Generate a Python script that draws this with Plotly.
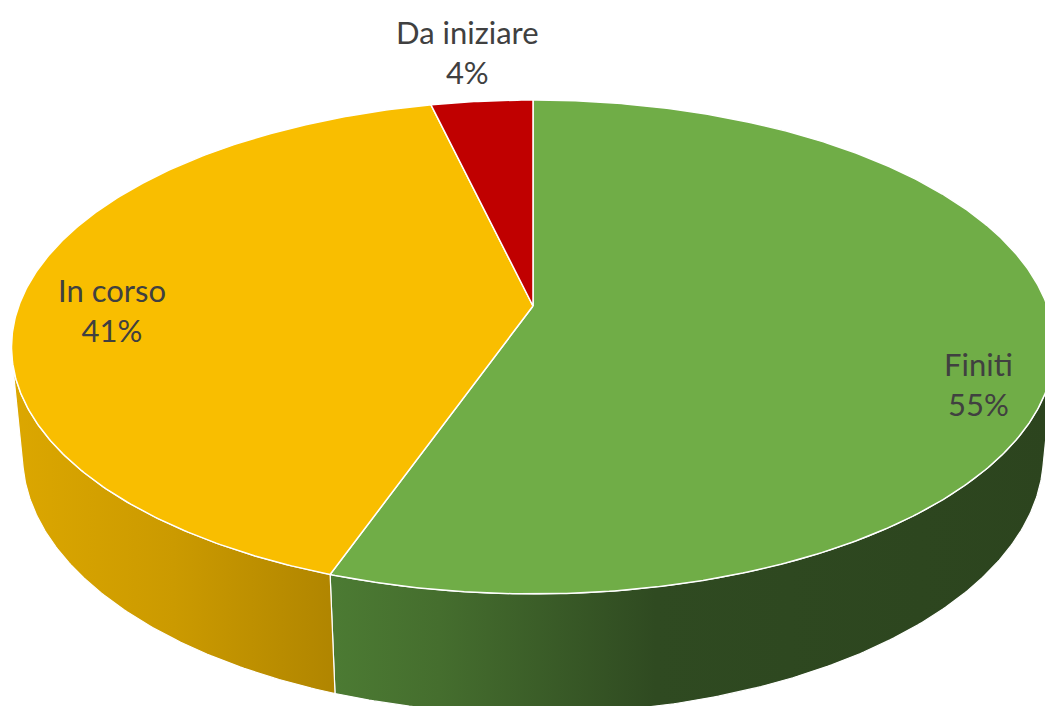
import numpy as np
import plotly.graph_objects as go

# ---- data ----
categories = ["Finiti", "In corso", "Da iniziare"]
values = [55.4, 40.9, 3.7]

# ---- styles ----
top_colors = ["#70AD47", "#F9BE00", "#C00000"]
side_scales = [
    [[0, "#4C7B33"], [0.15, "#456E2E"], [0.45, "#2F4A21"], [1, "#2C441E"]],
    [[0, "#DCA700"], [0.5, "#CB9A00"], [1, "#B08500"]],
    [[0, "#8A0000"], [1, "#600000"]],
]
label_pos = [(978, 384), (112, 310), (467, 52)]

W, HPX = 1045, 706
CX, CY = 533.0, 306.0
ALPHA = np.arcsin(0.467)
DIST = 5.33
FOC = 2741.0
DEPTH = 0.2387


def project(X, Y, Z):
    d = DIST - Y * np.cos(ALPHA) - Z * np.sin(ALPHA)
    sx = CX + FOC * X / d
    sy = CY + FOC * (Y * np.sin(ALPHA) - Z * np.cos(ALPHA)) / d
    return sx, sy


def arc(a0, a1, z):
    n = max(2, int(abs(a1 - a0) * 2) + 1)
    t = np.radians(np.linspace(a0, a1, n))
    return project(np.sin(t), -np.cos(t), z)


total = sum(values)
bounds = np.concatenate([[0], np.cumsum(values) / total * 360.0])

ycrit = 1.0 / (DIST * np.cos(ALPHA))
vis0 = np.degrees(np.arccos(-ycrit))
vis1 = 360.0 - vis0

fig = go.Figure()

# sides
for i in range(len(values)):
    a0, a1 = bounds[i], bounds[i + 1]
    s0, s1 = max(a0, vis0), min(a1, vis1)
    if s1 <= s0:
        continue
    tx, ty = arc(s0, s1, 0.0)
    bx, by = arc(s0, s1, -DEPTH)
    xs = np.concatenate([tx, bx[::-1], tx[:1]])
    ys = np.concatenate([ty, by[::-1], ty[:1]])
    fig.add_trace(go.Scatter(
        x=xs, y=ys, mode="lines", fill="toself",
        fillgradient=dict(type="horizontal", colorscale=side_scales[i]),
        line=dict(color="white", width=1.2),
        hoverinfo="skip", showlegend=False,
    ))

# top faces
for i in range(len(values)):
    a0, a1 = bounds[i], bounds[i + 1]
    tx, ty = arc(a0, a1, 0.0)
    xs = np.concatenate([[CX], tx, [CX]])
    ys = np.concatenate([[CY], ty, [CY]])
    fig.add_trace(go.Scatter(
        x=xs, y=ys, mode="lines", fill="toself",
        fillcolor=top_colors[i],
        line=dict(color="white", width=1.5),
        hoverinfo="skip", showlegend=False,
    ))

for i, cat in enumerate(categories):
    pct = int(round(values[i] / total * 100))
    fig.add_annotation(
        x=label_pos[i][0], y=label_pos[i][1],
        text=f"{cat}<br>{pct}%", showarrow=False,
        font=dict(family="Lato, Open Sans, sans-serif", size=31, color="#404040"),
        align="center", xanchor="center", yanchor="middle",
    )

fig.update_layout(
    width=W, height=HPX,
    margin=dict(l=0, r=0, t=0, b=0),
    paper_bgcolor="white", plot_bgcolor="white",
    xaxis=dict(range=[0, W], visible=False, fixedrange=True),
    yaxis=dict(range=[HPX, 0], visible=False, fixedrange=True),
    showlegend=False,
)

fig.write_html(
    "out.html",
    config={"displayModeBar": False},
    post_script="document.body.style.margin='0';document.body.style.overflow='hidden';",
)
